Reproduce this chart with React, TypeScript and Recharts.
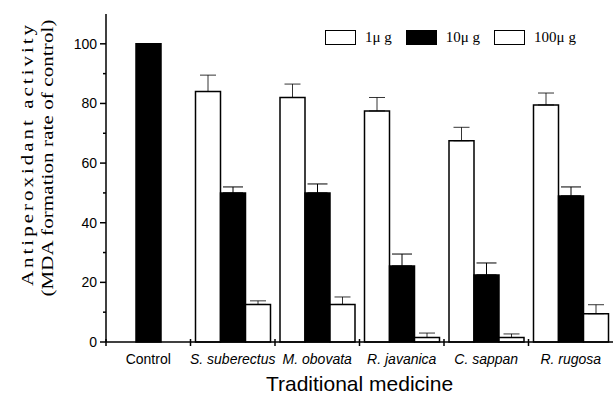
import React from 'react';
import { BarChart, Bar, XAxis, YAxis, Legend, ErrorBar, Customized } from 'recharts';

const categories = ['Control', 'S. suberectus', 'M. obovata', 'R. javanica', 'C. sappan', 'R. rugosa'];
const dose1 = [null, 84, 82, 77.5, 67.5, 79.5];
const dose10 = [100, 50, 50, 25.5, 22.5, 49];
const dose100 = [null, 12.6, 12.6, 1.5, 1.5, 9.5];
const err1 = [0, 5.5, 4.5, 4.5, 4.5, 4];
const err10 = [0, 2, 3, 4, 4, 3];
const err100 = [0, 1.2, 2.5, 1.5, 1.2, 3];
const seriesNames = ['1\u03bc g', '10\u03bc g', '100\u03bc g'];
const seriesFills = ['#ffffff', '#000000', '#ffffff'];
const yTicks = [0, 10, 20, 30, 40, 50, 60, 70, 80, 90, 100];
const yLabelLines = ['Antiperoxidant activity', '(MDA formation rate of control)'];
const xLabel = 'Traditional medicine';

const data = categories.map((name, i) => ({
  name,
  d1: dose1[i],
  d10: dose10[i],
  d100: dose100[i],
  e1: err1[i] ? [0, err1[i]] : null,
  e10: err10[i] ? [0, err10[i]] : null,
  e100: err100[i] ? [0, err100[i]] : null,
}));

const SANS = "'Liberation Sans', Arial, sans-serif";
const SERIF = "'Liberation Serif', 'Times New Roman', serif";

const XTick = (props: any) => {
  const { x, y, payload, width } = props;
  const half = payload && payload.offset ? payload.offset : (width ? width / categories.length / 2 : 42.25);
  const italic = payload.value !== 'Control';
  return (
    <g>
      <line x1={x - half} x2={x - half} y1={y - 3} y2={y + 4} stroke="#000" strokeWidth={1.5} />
      <text x={x} y={y + 21.5} textAnchor="middle" fontFamily={SANS} fontSize={14}
        fontStyle={italic ? 'italic' : 'normal'} fill="#000">{payload.value}</text>
    </g>
  );
};

const YTick = (props: any) => {
  const { x, y, payload } = props;
  const major = payload.value % 20 === 0;
  return (
    <g>
      <line x1={x - (major ? 6 : 3)} x2={x} y1={y} y2={y} stroke="#000" strokeWidth={1.5} />
      {major && (
        <text x={x - 9} y={y + 5} textAnchor="end" fontFamily={SANS} fontSize={14} fill="#000">
          {payload.value}
        </text>
      )}
    </g>
  );
};

const LegendContent = (props: any) => {
  const items = [...(props.payload || [])].sort(
    (a: any, b: any) => seriesNames.indexOf(a.value) - seriesNames.indexOf(b.value)
  );
  return (
    <div style={{ display: 'flex', alignItems: 'center', fontFamily: SERIF, fontSize: 15, color: '#000', whiteSpace: 'nowrap' }}>
      {items.map((p: any, i: number) => (
        <div key={i} style={{ display: 'flex', alignItems: 'center', marginRight: 14 }}>
          <span style={{ display: 'inline-block', width: 31, height: 15, boxSizing: 'border-box', border: '1.5px solid #000', background: p.color, marginRight: 9 }} />
          <span>{p.value}</span>
        </div>
      ))}
    </div>
  );
};

const Labels = () => (
  <g>
    <text transform="translate(27.5,154) rotate(-90) scale(1,0.82)" textAnchor="middle" dominantBaseline="central"
      fontFamily={SERIF} fontSize={21} letterSpacing={3} fill="#000">{yLabelLines[0]}</text>
    <text transform="translate(47,158) rotate(-90) scale(1,0.82)" textAnchor="middle" dominantBaseline="central"
      fontFamily={SERIF} fontSize={21} letterSpacing={0.1} fill="#000">{yLabelLines[1]}</text>
    <text x={359.5} y={391} textAnchor="middle" fontFamily={SANS} fontSize={21} fill="#000">{xLabel}</text>
  </g>
);

export default function App() {
  return (
    <div style={{ position: 'absolute', left: 0, top: 0, width: 613, height: 396, background: '#fff' }}>
      <BarChart width={613} height={396} data={data} margin={{ top: 14, right: 0, bottom: 0, left: 0 }}
        barGap={0} barSize={25}>
        <XAxis dataKey="name" height={54} interval={0} tickSize={0} tickMargin={0} tickLine={false}
          axisLine={{ stroke: '#000', strokeWidth: 1.5 }} tick={<XTick />} />
        <YAxis type="number" domain={[0, 110]} ticks={yTicks} width={106} tickSize={0} tickMargin={0}
          tickLine={false} axisLine={{ stroke: '#000', strokeWidth: 1.5 }} tick={<YTick />} />
        <Legend layout="horizontal" verticalAlign="middle" align="center" content={<LegendContent />}
          wrapperStyle={{ position: 'absolute', left: 325, top: 29, width: 'auto', height: 'auto' }} />
        <Bar dataKey="d1" name={seriesNames[0]} fill={seriesFills[0]} stroke="#000" strokeWidth={1.5} isAnimationActive={false}>
          <ErrorBar dataKey="e1" width={8} stroke="#000" strokeWidth={0.8} direction="y" />
        </Bar>
        <Bar dataKey="d10" name={seriesNames[1]} fill={seriesFills[1]} stroke="#000" strokeWidth={1.5} isAnimationActive={false}>
          <ErrorBar dataKey="e10" width={10} stroke="#000" strokeWidth={1} direction="y" />
        </Bar>
        <Bar dataKey="d100" name={seriesNames[2]} fill={seriesFills[2]} stroke="#000" strokeWidth={1.5} isAnimationActive={false}>
          <ErrorBar dataKey="e100" width={8} stroke="#000" strokeWidth={0.8} direction="y" />
        </Bar>
        <Customized component={Labels} />
      </BarChart>
    </div>
  );
}
